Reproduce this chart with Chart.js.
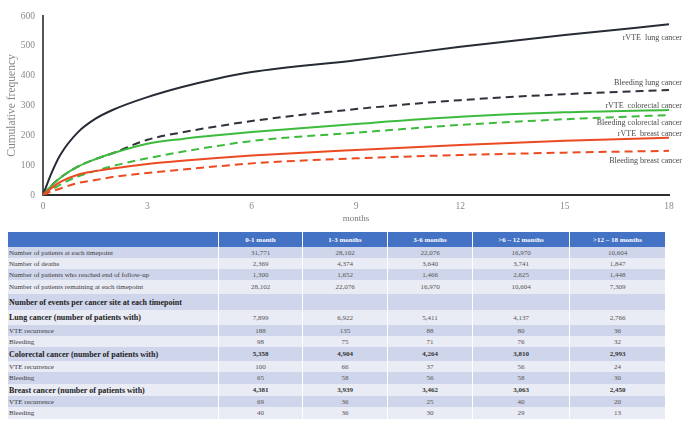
<!DOCTYPE html>
<html>
<head>
<meta charset="utf-8">
<script src="https://cdn.jsdelivr.net/npm/chart.js@4/dist/chart.umd.min.js"></script>
<style>
  html, body { margin: 0; padding: 0; background: #ffffff; }
  body { width: 684px; height: 426px; position: relative; overflow: hidden; }
  #chartBox { position: absolute; left: 0; top: 0; width: 684px; height: 228px; }
  #tbl {
    position: absolute; left: 7px; top: 232px; width: 658px;
    border-collapse: collapse; table-layout: fixed;
    font-family: "Liberation Serif", "Times New Roman", serif; font-size: 7px; color: #444;
  }
  #tbl th, #tbl td { padding: 0 2px; border-left: 1px solid #ffffff; border-right: 1px solid #ffffff; white-space: nowrap; overflow: hidden; }
  #tbl th { background: #4472c4; color: #ffffff; font-weight: bold; height: 15px; text-align: center; }
  #tbl td { text-align: center; color: #555; }
  #tbl td.lbl { text-align: left; color: #3a3a3a; padding-left: 1px; }
  #tbl tr.dark td { background: #cfd5ea; }
  #tbl tr.light td { background: #e9ebf5; }
  #tbl tr.bold td.lbl { font-weight: bold; color: #222; font-size: 8px; }
  #tbl tr.boldnum td { font-weight: bold; color: #333; }
</style>
</head>
<body>
<div id="chartBox"><canvas id="c" width="684" height="228"></canvas></div>
<table id="tbl"><colgroup>
  <col style="width:211px"><col style="width:84px"><col style="width:85px"><col style="width:85px"><col style="width:97px"><col style="width:96px">
</colgroup><thead></thead><tbody></tbody></table>
<script>
// Follow-up time (months) at which the cumulative curves are sampled
const months = [0, 0.25, 0.5, 1, 1.5, 2, 3, 4, 5, 6, 9, 12, 15, 18];

// Cumulative event counts per cancer site
const vteLung            = [0, 75, 135, 210, 255, 285, 328, 362, 390, 412, 452, 497, 536, 572];
const bleedingLung       = [0, 32, 58, 95, 120, 140, 185, 210, 230, 248, 288, 318, 338, 352];
const vteColorectal      = [0, 32, 58, 95, 120, 140, 172, 188, 200, 211, 238, 262, 277, 285];
const bleedingColorectal = [0, 18, 35, 62, 80, 97, 123, 145, 164, 181, 209, 235, 254, 268];
const vteBreast          = [0, 24, 44, 68, 80, 89, 104, 115, 124, 132, 151, 168, 182, 192];
const bleedingBreast     = [0, 12, 22, 40, 50, 60, 74, 85, 96, 106, 123, 134, 142, 148];

const seriesNames = [
  "rVTE  lung cancer", "Bleeding lung cancer",
  "rVTE  colorectal cancer", "Bleeding colorectal cancer",
  "rVTE  breast cancer", "Bleeding breast cancer"
];

const yTicks = [0, 100, 200, 300, 400, 500, 600];
const xTicks = [0, 3, 6, 9, 12, 15, 18];

// Table contents
const tableHeaders = ["", "0-1 month", "1-3 months", "3-6 months", ">6 \u2013 12 months", ">12 \u2013 18 months"];
const rowLabels = [
  "Number of patients at each timepoint",
  "Number of deaths",
  "Number of patients who reached  end of follow-up",
  "Number of patients remaining  at each timepoint",
  "Number of events per cancer site at each timepoint",
  "Lung cancer (number of patients with)",
  "VTE recurrence",
  "Bleeding",
  "Colorectal cancer (number of patients with)",
  "VTE recurrence",
  "Bleeding",
  "Breast cancer (number of patients with)",
  "VTE recurrence",
  "Bleeding"
];
const rowValues = [
  ["31,771", "28,102", "22,076", "16,970", "10,604"],
  ["2,369", "4,374", "3,640", "3,741", "1,847"],
  ["1,300", "1,652", "1,466", "2,625", "1,448"],
  ["28,102", "22,076", "16,970", "10,604", "7,309"],
  ["", "", "", "", ""],
  ["7,899", "6,922", "5,411", "4,137", "2,766"],
  ["188", "135", "88", "80", "36"],
  ["98", "75", "71", "76", "32"],
  ["5,358", "4,904", "4,264", "3,810", "2,993"],
  ["100", "66", "37", "56", "24"],
  ["65", "58", "56", "58", "30"],
  ["4,381", "3,939", "3,462", "3,063", "2,450"],
  ["69", "36", "25", "40", "20"],
  ["40", "36", "30", "29", "13"]
];
const boldLabelRows = [4, 5, 8, 11];
const boldValueRows = [8, 11];
const rowHeights = [11, 11, 11, 14, 16, 15, 11, 11, 14, 11, 12, 12, 11, 12];

// ---- table ----
const thead = document.querySelector('#tbl thead');
const htr = document.createElement('tr');
tableHeaders.forEach(h => { const th = document.createElement('th'); th.textContent = h; htr.appendChild(th); });
thead.appendChild(htr);
const tbody = document.querySelector('#tbl tbody');
rowLabels.forEach((lab, i) => {
  const tr = document.createElement('tr');
  tr.className = (i % 2 === 0 ? 'dark' : 'light') +
    (boldLabelRows.includes(i) ? ' bold' : '') + (boldValueRows.includes(i) ? ' boldnum' : '');
  tr.style.height = rowHeights[i] + 'px';
  const td0 = document.createElement('td'); td0.className = 'lbl'; td0.textContent = lab; tr.appendChild(td0);
  rowValues[i].forEach(v => { const td = document.createElement('td'); td.textContent = v; tr.appendChild(td); });
  tbody.appendChild(tr);
});

// ---- chart ----
const toPoints = arr => months.map((m, i) => ({ x: m, y: arr[i] }));
const dark = '#272b36', green = '#3dbb3d', red = '#eb4a22';

const styles = [
  { data: vteLung, color: dark, dash: [], dy: 14 },
  { data: bleedingLung, color: '#2f323a', dash: [8, 5], dy: -7 },
  { data: vteColorectal, color: green, dash: [], dy: -4 },
  { data: bleedingColorectal, color: green, dash: [8, 5], dy: 8 },
  { data: vteBreast, color: red, dash: [], dy: -4 },
  { data: bleedingBreast, color: red, dash: [8, 5], dy: 10 }
];

// later series are painted over earlier ones
const datasets = styles.map((s, i) => ({
  label: seriesNames[i],
  data: toPoints(s.data),
  borderColor: s.color,
  borderDash: s.dash,
  borderWidth: 2,
  pointRadius: 0,
  fill: false,
  order: styles.length - i,
  cubicInterpolationMode: 'monotone',
  endLabelOffset: s.dy
}));

const endLabels = {
  id: 'endLabels',
  afterDatasetsDraw(chart) {
    const ctx = chart.ctx;
    ctx.save();
    ctx.font = '8px "Liberation Serif", serif';
    ctx.fillStyle = '#4a4a4a';
    ctx.textAlign = 'right';
    ctx.textBaseline = 'middle';
    chart.data.datasets.forEach((ds, i) => {
      const meta = chart.getDatasetMeta(i);
      const last = meta.data[meta.data.length - 1];
      ctx.fillText(ds.label, chart.width - 2, last.y + ds.endLabelOffset);
    });
    ctx.restore();
  }
};

new Chart(document.getElementById('c'), {
  type: 'line',
  data: { datasets },
  options: {
    responsive: false,
    devicePixelRatio: 1,
    animation: false,
    events: [],
    layout: { padding: { top: 16, right: 15, left: 0, bottom: 0 } },
    plugins: { legend: { display: false }, tooltip: { enabled: false } },
    scales: {
      x: {
        type: 'linear', min: 0, max: 18,
        afterBuildTicks: s => { s.ticks = xTicks.map(v => ({ value: v })); },
        afterFit: s => { s.height = 33; },
        grid: { display: false, drawTicks: false },
        border: { color: '#2e2e2e', width: 2 },
        ticks: { padding: 6, color: '#8a8a8a', font: { family: '"Liberation Serif", serif', size: 9.5 } },
        title: { display: true, text: 'months', color: '#777', padding: { top: 0, bottom: 4 },
                 font: { family: '"Liberation Serif", serif', size: 9 } }
      },
      y: {
        type: 'linear', min: 0, max: 600,
        afterBuildTicks: s => { s.ticks = yTicks.map(v => ({ value: v })); },
        afterFit: s => { s.width = 43; },
        grid: { display: false, drawTicks: false },
        border: { color: '#555', width: 2 },
        ticks: { padding: 8, color: '#8a8a8a', font: { family: '"Liberation Serif", serif', size: 9.5 } },
        title: { display: true, text: 'Cumulative frequency', color: '#888', padding: { top: 5, bottom: 0 },
                 font: { family: '"Liberation Serif", serif', size: 11.5 } }
      }
    }
  },
  plugins: [endLabels]
});
</script>
</body>
</html>
